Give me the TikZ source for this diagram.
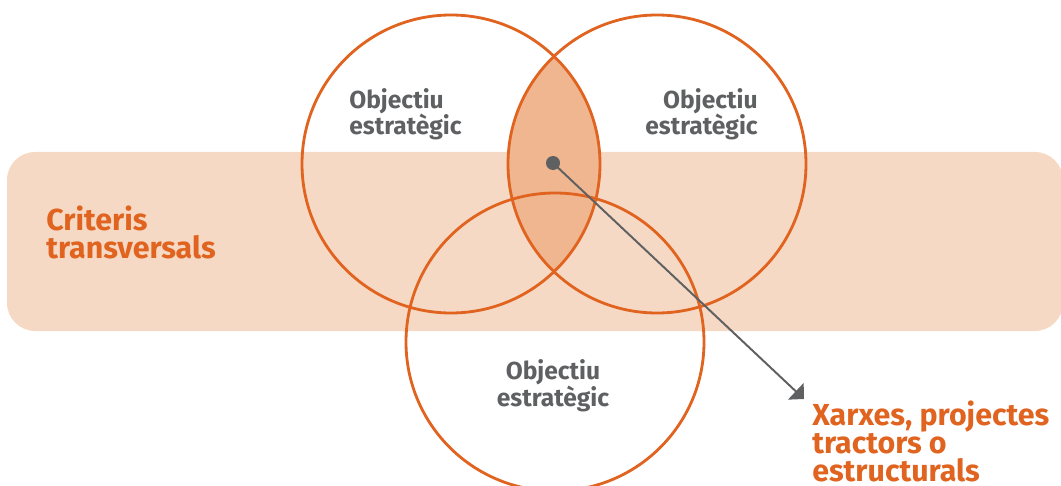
\documentclass[tikz,border=0pt]{standalone}
\usepackage{fontspec}
\setmainfont{Fira Sans}
\usetikzlibrary{arrows.meta}
\definecolor{ringline}{HTML}{E0641F}
\definecolor{bandfill}{HTML}{F6D9C4}
\definecolor{lensfill}{HTML}{F0B690}
\definecolor{labelgray}{HTML}{5F6062}
\tikzset{>={Triangle[length=8pt, width=16pt]}}

\begin{document}
\begin{tikzpicture}[x=0.025cm, y=-0.025cm,
  ring/.style={draw=ringline, line width=2pt},
  objlabel/.style={labelgray, inner sep=0, font={\fontsize{17.5}{19.1}\selectfont\bfseries}},
  keylabel/.style={ringline, inner sep=0, align=left, font={\fontsize{21.6}{19.9}\selectfont\bfseries}}]
\useasboundingbox (0,0) rectangle (1061,486);
% band of transversal criteria
\fill [bandfill, rounded corners=20pt] (7,152) rectangle (1063,331);
\coordinate (cl) at (451,164);
\coordinate (cr) at (657,164);
\coordinate (cb) at (555,342);
% shared part of the two upper objectives
\begin{scope}
\clip (cl) circle (149);
\fill [lensfill] (cr) circle (149);
\end{scope}
\draw [ring] (cl) circle (149);
\draw [ring] (cr) circle (149);
\draw [ring] (cb) circle (149);
% base = last line
\node [objlabel, anchor=base west, align=left] (objl) at (349,135) {Objectiu\\estratègic};
\node [objlabel, anchor=base east, align=right] (objr) at (758,135) {Objectiu\\estratègic};
\node [objlabel, anchor=base, align=center] (objb) at (553,406) {Objectiu\\estratègic};
\node [keylabel, anchor=base west] (crit) at (46,258) {Criteris\\transversals};
\node [keylabel, anchor=base west] (xarx) at (812,481) {Xarxes, projectes\\tractors o\\estructurals};
\node [circle, fill=labelgray, minimum size=0.35cm, inner sep=0] (hub) at (553,163) {};
\coordinate (tip) at (804,399);
\draw [->, labelgray, line width=1.4pt] (hub.center) -- (tip);
\end{tikzpicture}
\end{document}
